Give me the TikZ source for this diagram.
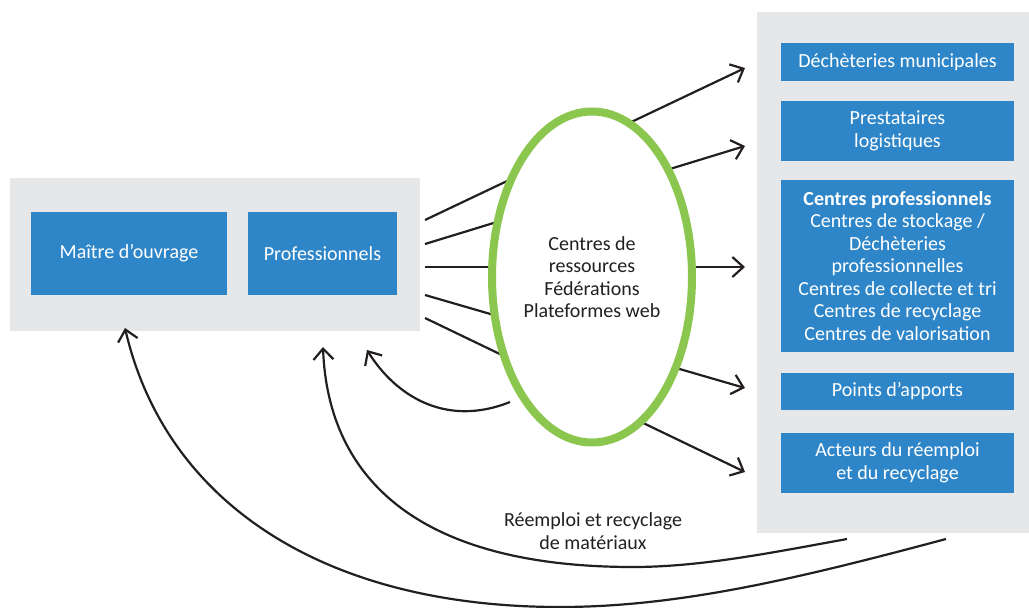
\documentclass[tikz,border=0pt]{standalone}
\usepackage{fontspec}
\setmainfont{Carlito}
\usetikzlibrary{arrows.meta,shapes.geometric}
\definecolor{blu}{HTML}{2E86C8}
\definecolor{gry}{HTML}{E6E7E8}
\definecolor{grn}{HTML}{8BC64F}
\definecolor{ink}{HTML}{231F20}
\begin{document}
\begin{tikzpicture}[x=1pt,y=-1pt,
  bluebox/.style={fill=blu, text=white, inner sep=0pt, align=center, font=\fontsize{20}{22.5}\selectfont},
  grp/.style={fill=gry, inner sep=0pt},
  arr/.style={draw=ink, line width=2.2pt, -{Straight Barb[length=11pt,width=20pt,line width=2.2pt]}},
  txt/.style={text=ink, align=center, font=\fontsize{20}{22.5}\selectfont}]
\useasboundingbox (0,0) rectangle (1029,608);
% groups
\node[grp, minimum width=410pt, minimum height=153pt] (left) at (215,254.5) {};
\node[grp, minimum width=274pt, minimum height=521pt] (right) at (894,272.5) {};
% left boxes
\node[bluebox, minimum width=196pt, minimum height=83pt] (mo) at (129,253.5) {Maître d’ouvrage};
\node[bluebox, minimum width=149pt, minimum height=83pt] (pro) at (322.5,253.5) {Professionnels};
% right boxes
\node[bluebox, minimum width=233pt, minimum height=38pt] (b1) at (897.5,62) {Déchèteries municipales};
\node[bluebox, minimum width=233pt, minimum height=60pt] (b2) at (897.5,131) {Prestataires\\logistiques};
\node[bluebox, minimum width=233pt, minimum height=172pt] (b3) at (897.5,266) {\textbf{Centres professionnels}\\Centres de stockage /\\Déchèteries\\professionnelles\\Centres de collecte et tri\\Centres de recyclage\\Centres de valorisation};
\node[bluebox, minimum width=233pt, minimum height=37pt] (b4) at (897.5,391.5) {Points d’apports};
\node[bluebox, minimum width=233pt, minimum height=60pt] (b5) at (897.5,463) {Acteurs du réemploi\\et du recyclage};
% connector ends
\coordinate (s1) at (425,220); \coordinate (e1) at (745,68);
\coordinate (s2) at (425,244); \coordinate (e2) at (745,146);
\coordinate (s3) at (425,267); \coordinate (e3) at (745,267);
\coordinate (s4) at (425,295); \coordinate (e4) at (745,388);
\coordinate (s5) at (425,318); \coordinate (e5) at (745,472);
\draw[arr] (s1) -- (e1);
\draw[arr] (s2) -- (e2);
\draw[arr] (s3) -- (e3);
\draw[arr] (s4) -- (e4);
\draw[arr] (s5) -- (e5);
% ellipse
\node[ellipse, draw=grn, line width=8pt, fill=white, inner sep=0pt, minimum width=200pt, minimum height=331pt, txt] (res) at (592,277) {Centres de\\ressources\\Fédérations\\Plateformes web};
% return curves
\coordinate (a0) at (510,402); \coordinate (a1) at (367,350);
\coordinate (bb0) at (847,539); \coordinate (bb1) at (323,347);
\coordinate (c0) at (946,539); \coordinate (c1) at (125,328);
\draw[arr] (a0) .. controls (445,428) and (395,395) .. (a1);
\draw[arr] (bb0) .. controls (770,553) and (700,567) .. (633,567) .. controls (420,567) and (328,480) .. (bb1);
\draw[arr] (c0) .. controls (800,578) and (680,607) .. (560,607) .. controls (320,607) and (165,500) .. (c1);
\node[txt] (lbl) at (593,531) {Réemploi et recyclage\\de matériaux};
\end{tikzpicture}
\end{document}
